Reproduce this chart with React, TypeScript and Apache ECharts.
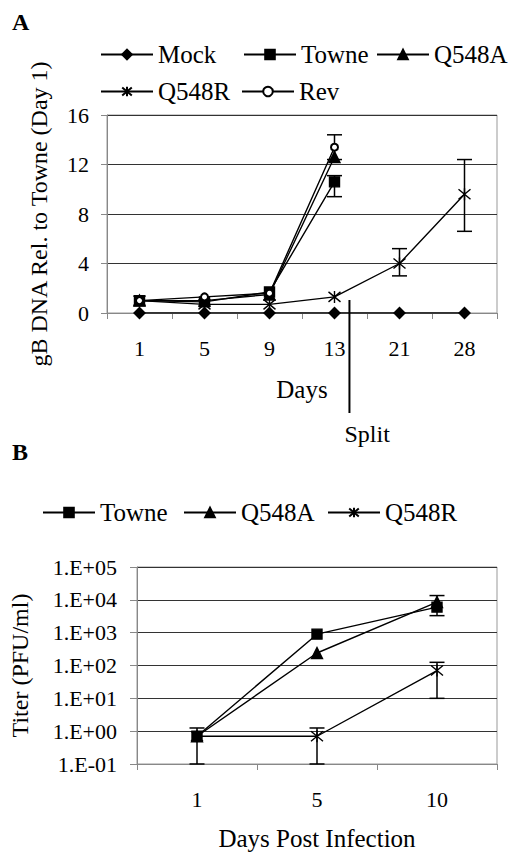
import React, { useEffect, useRef } from 'react';
import * as echarts from 'echarts';

// ---------- Panel A data ----------
const daysA = ['1', '5', '9', '13', '21', '28'];
const mockA = [0, 0, 0, 0, 0, 0];
const towneA = [1.0, 0.9, 1.7, 10.6, null, null];
const q548aA = [1.0, 1.0, 1.5, 12.6, null, null];
const q548rA = [1.0, 0.7, 0.7, 1.3, 4.0, 9.6];
const revA = [1.0, 1.3, 1.6, 13.4, null, null];
// [category index, low, high]
const errA = [
  [3, 9.4, 11.1],
  [3, 12.4, 14.4],
  [4, 3.0, 5.2],
  [5, 6.6, 12.4],
];

// ---------- Panel B data ----------
const daysB = ['1', '5', '10'];
const towneB = [0.7, 900, 6000];
const q548aB = [0.7, 240, 8500];
const q548rB = [0.7, 0.7, 70];
const errB = [
  [0, 0.1, 1.25],
  [1, 0.1, 1.25],
  [2, 10, 125],
  [2, 3300, 13500],
];

const FONT = '"Liberation Serif", "Times New Roman", serif';
const FS_TICK = 22;
const FS_NAME = 25;
const FS_LEG = 25;
const ASTERISK = 'path://M0,0L10,10M10,0L0,10M5,-1L5,11';

const lineSeries = (name: string, data: any[], symbol: string, size: number, xi: number, yi: number, extra: any = {}) => ({
  name,
  type: 'line',
  xAxisIndex: xi,
  yAxisIndex: yi,
  data,
  symbol,
  symbolSize: size,
  showSymbol: true,
  connectNulls: false,
  lineStyle: { color: '#000', width: 1.4 },
  itemStyle: { color: '#000', borderColor: '#000', borderWidth: 1.4, ...(extra.itemStyle || {}) },
  z: 3,
});

const errSeries = (data: number[][], xi: number, yi: number) => ({
  type: 'custom',
  xAxisIndex: xi,
  yAxisIndex: yi,
  data,
  silent: true,
  z: 2,
  encode: { x: 0, y: [1, 2] },
  renderItem: (_p: any, api: any) => {
    const lo = api.coord([api.value(0), api.value(1)]);
    const hi = api.coord([api.value(0), api.value(2)]);
    const w = 7.5;
    const st = { stroke: '#000', lineWidth: 1.5 };
    return {
      type: 'group',
      children: [
        { type: 'line', shape: { x1: lo[0], y1: lo[1], x2: hi[0], y2: hi[1] }, style: st },
        { type: 'line', shape: { x1: lo[0] - w, y1: lo[1], x2: lo[0] + w, y2: lo[1] }, style: st },
        { type: 'line', shape: { x1: hi[0] - w, y1: hi[1], x2: hi[0] + w, y2: hi[1] }, style: st },
      ],
    };
  },
});

const leg = (name: string, left: number, top: number) => ({
  data: [name],
  left,
  top,
  padding: 0,
  itemWidth: 52,
  itemHeight: 12,
  itemGap: 0,
  selectedMode: false,
  textStyle: { fontFamily: FONT, fontSize: FS_LEG, color: '#000' },
});

const fmtExp = (v: number) => {
  const e = Math.round(Math.log10(v));
  return '1.E' + (e < 0 ? '-' : '+') + String(Math.abs(e)).padStart(2, '0');
};

export default function App() {
  const ref = useRef<HTMLDivElement>(null);
  useEffect(() => {
    document.body.style.margin = '0';
    const chart = echarts.init(ref.current!, undefined, { renderer: 'svg' });
    const axisLabel = { fontFamily: FONT, fontSize: FS_TICK, color: '#000' };
    const nameStyle = { fontFamily: FONT, fontSize: FS_NAME, color: '#000' };
    const option: any = {
      animation: false,
      backgroundColor: '#fff',
      title: [
        { text: 'A', left: 12, top: 10, padding: 0, textStyle: { fontFamily: FONT, fontSize: 24, fontWeight: 'bold', color: '#000' } },
        { text: 'B', left: 12, top: 440, padding: 0, textStyle: { fontFamily: FONT, fontSize: 24, fontWeight: 'bold', color: '#000' } },
      ],
      legend: [
        leg('Mock', 100, 42),
        leg('Towne', 243, 42),
        leg('Q548A', 376, 42),
        leg('Q548R', 100, 79),
        leg('Rev', 241, 79),
        leg('Towne', 42, 500),
        leg('Q548A', 183, 500),
        leg('Q548R', 327, 500),
      ],
      grid: [
        { left: 107, top: 115, width: 390, height: 198, show: true, borderColor: '#999', borderWidth: 1, backgroundColor: 'transparent' },
        { left: 135, top: 567, width: 362, height: 198, show: true, borderColor: '#999', borderWidth: 1, backgroundColor: 'transparent' },
      ],
      xAxis: [
        {
          type: 'category', gridIndex: 0, data: daysA, boundaryGap: true,
          name: 'Days', nameLocation: 'middle', nameGap: 64,
          nameTextStyle: nameStyle,
          axisLine: { lineStyle: { color: '#888', width: 1 } },
          axisTick: { show: true, length: 6, lineStyle: { color: '#888' } },
          axisLabel: { ...axisLabel, margin: 24 },
          splitLine: { show: false },
        },
        {
          type: 'category', gridIndex: 1, data: daysB, boundaryGap: true,
          name: 'Days Post Infection', nameLocation: 'middle', nameGap: 62,
          nameTextStyle: nameStyle,
          axisLine: { lineStyle: { color: '#888', width: 1 } },
          axisTick: { show: true, length: 6, lineStyle: { color: '#888' } },
          axisLabel: { ...axisLabel, margin: 24 },
          splitLine: { show: false },
        },
      ],
      yAxis: [
        {
          type: 'value', gridIndex: 0, min: 0, max: 16, interval: 4,
          name: 'gB DNA Rel. to Towne (Day 1)', nameLocation: 'middle', nameGap: 56, nameRotate: 90,
          nameTextStyle: { ...nameStyle, fontSize: 24 },
          axisLine: { show: true, lineStyle: { color: '#888', width: 1 } },
          axisTick: { show: true, length: 6, lineStyle: { color: '#888' } },
          axisLabel: { ...axisLabel, margin: 18 },
          splitLine: { show: true, lineStyle: { color: '#333', width: 1 } },
        },
        {
          type: 'log', gridIndex: 1, logBase: 10, min: 0.1, max: 100000,
          name: 'Titer (PFU/ml)', nameLocation: 'middle', nameGap: 105, nameRotate: 90,
          nameTextStyle: { ...nameStyle, fontSize: 24 },
          axisLine: { show: true, lineStyle: { color: '#888', width: 1 } },
          axisTick: { show: true, length: 7, lineStyle: { color: '#888' } },
          axisLabel: { ...axisLabel, margin: 20, formatter: fmtExp },
          splitLine: { show: true, lineStyle: { color: '#333', width: 1 } },
        },
      ],
      series: [
        lineSeries('Mock', mockA, 'diamond', 11, 0, 0),
        lineSeries('Towne', towneA, 'rect', 10, 0, 0),
        lineSeries('Q548A', q548aA, 'triangle', 11, 0, 0),
        lineSeries('Q548R', q548rA, ASTERISK, 12, 0, 0, { itemStyle: { color: 'none' } }),
        lineSeries('Rev', revA, 'emptyCircle', 7, 0, 0, { itemStyle: { borderWidth: 1 } }),
        errSeries(errA, 0, 0),
        lineSeries('Towne', towneB, 'rect', 10, 1, 1),
        lineSeries('Q548A', q548aB, 'triangle', 11, 1, 1),
        lineSeries('Q548R', q548rB, ASTERISK, 12, 1, 1, { itemStyle: { color: 'none' } }),
        errSeries(errB, 1, 1),
      ],
    };
    chart.setOption(option);

    // "Split" annotation between day 13 and day 21
    const p3 = chart.convertToPixel({ xAxisIndex: 0 } as any, 3) as unknown as number;
    const p4 = chart.convertToPixel({ xAxisIndex: 0 } as any, 4) as unknown as number;
    const y0 = chart.convertToPixel({ yAxisIndex: 0 } as any, 0) as unknown as number;
    const yTop = chart.convertToPixel({ yAxisIndex: 0 } as any, 1.05) as unknown as number;
    const sx = p3 + (p4 - p3) * 0.23;
    chart.setOption({
      graphic: [
        { type: 'line', shape: { x1: sx, y1: yTop, x2: sx, y2: y0 + 100 }, style: { stroke: '#000', lineWidth: 2 }, z: 10 },
        { type: 'text', x: sx - 5, y: y0 + 109, style: { text: 'Split', fontFamily: FONT, fontSize: 24, fill: '#000' }, z: 10 },
      ],
    });
    return () => chart.dispose();
  }, []);
  return <div ref={ref} style={{ width: 514, height: 852 }} />;
}
